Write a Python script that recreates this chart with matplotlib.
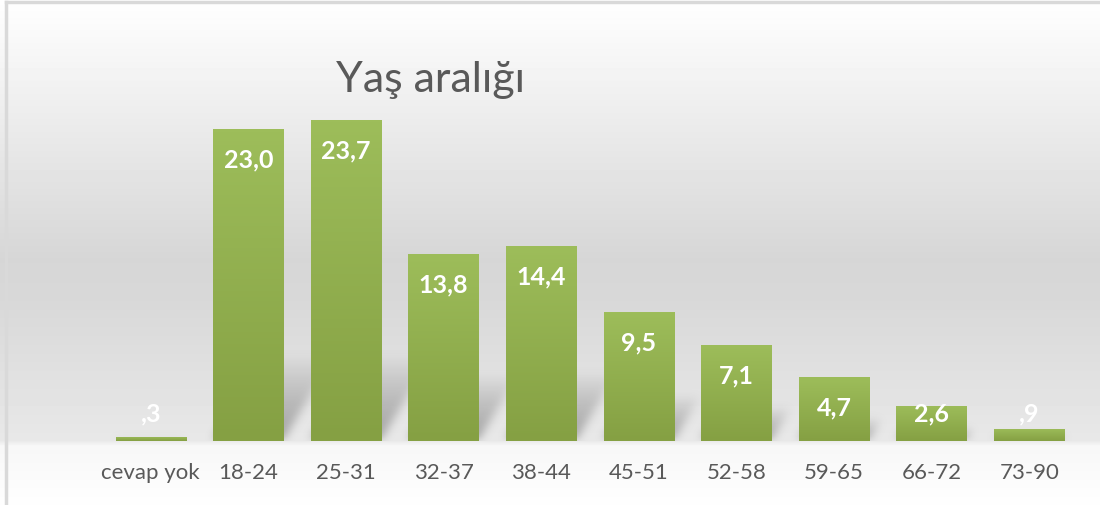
import numpy as np
import matplotlib
matplotlib.use("Agg")
import matplotlib.pyplot as plt
from matplotlib.colors import LinearSegmentedColormap

plt.rcParams['font.family'] = ['Lato', 'DejaVu Sans']

title = "Yaş aralığı"
categories = ["cevap yok", "18-24", "25-31", "32-37", "38-44",
              "45-51", "52-58", "59-65", "66-72", "73-90"]
values = [0.3, 23.0, 23.7, 13.8, 14.4, 9.5, 7.1, 4.7, 2.6, 0.9]


def fmt(v):
    s = f"{v:.1f}".replace(".", ",")
    if s.startswith("0"):
        s = s[1:]
    return s


W, H = 1100, 506
fig = plt.figure(figsize=(W / 100, H / 100), dpi=100)

# background: white -> gray -> white vertical gradient
bg = fig.add_axes([0, 0, 1, 1], zorder=-5)
ys = np.arange(H)
prof = np.interp(ys, [0, 12, 260, 300, 441, 446, 506],
                 [255, 253, 214, 216, 232, 247, 254]) / 255.0
img = np.repeat(prof[:, None], 10, axis=1)
bg.imshow(img, cmap="gray", vmin=0, vmax=1, aspect="auto",
          extent=(0, W, H, 0))
bg.set_xlim(0, W)
bg.set_ylim(H, 0)
bg.axis("off")
# frame lines
bg.plot([6, 6], [3, H], color="#d9d9d9", lw=2.5)
bg.plot([6, W], [3, 3], color="#d9d9d9", lw=2.5)

ymax = 25.0
left, right, base = 102, 1078, 442
top = base - ymax * 13.56
ax = fig.add_axes([left / W, (H - base) / H, (right - left) / W, (base - top) / H])
ax.set_facecolor("none")
x = np.arange(len(categories))
bw = 0.72

# soft perspective shadows behind bars
sx = (right - left) / len(categories)
sy = (base - top) / ymax
gw, gh = int(right - left), int(base - top)
sh_img = np.zeros((gh, gw))
for xi, v in zip(x, values):
    hpx = v * sy
    sh = min(0.35 * hpx, 85)
    x0 = (xi + 0.5 - bw / 2) * sx
    x1 = (xi + 0.5 + bw / 2) * sx
    for yy in range(int(sh)):
        off = 0.6 * yy
        a = 0.6 * (1 - yy / sh) ** 0.8
        r = gh - 1 - yy
        c0 = int(max(x0 + off, 0))
        c1 = int(min(x1 + off, gw))
        sh_img[r, c0:c1] = np.maximum(sh_img[r, c0:c1], a)
k = np.ones(9) / 9
for _ in range(3):
    sh_img = np.apply_along_axis(lambda m: np.convolve(m, k, mode="same"), 1, sh_img)
    sh_img = np.apply_along_axis(lambda m: np.convolve(m, k, mode="same"), 0, sh_img)
rgba = np.zeros((gh, gw, 4))
rgba[..., :3] = 0.45
rgba[..., 3] = sh_img
ax.imshow(rgba, extent=(-0.5, len(categories) - 0.5, 0, ymax), aspect="auto",
          zorder=1, origin="upper")

bars = ax.bar(x, values, width=bw, color="#8fac4d", zorder=2)
green = LinearSegmentedColormap.from_list("g", ["#85a043", "#9dbd5a"])
grad = np.linspace(1, 0, 100)[:, None]
for b in bars:
    gi = ax.imshow(grad, cmap=green, vmin=0, vmax=1, aspect="auto", zorder=3,
                   extent=(b.get_x(), b.get_x() + b.get_width(), 0, b.get_height()))
    gi.set_clip_path(b)

for xi, v in zip(x, values):
    ax.text(xi, max(v - 2.2, 2.05), fmt(v), ha="center", va="center",
            color="white", fontsize=18, fontweight="bold", zorder=4)

ax.set_xlim(-0.5, len(categories) - 0.5)
ax.set_ylim(0, ymax)
ax.set_xticks(x)
ax.set_xticklabels(categories, color="#595959", fontsize=16)
ax.tick_params(axis="x", length=0, pad=15)
ax.set_yticks([])
for s in ax.spines.values():
    s.set_visible(False)

fig.text(430 / W, 1 - 80 / H, title, ha="center", va="center",
         fontsize=31, color="#595959")

fig.savefig("out.png", dpi=100)
